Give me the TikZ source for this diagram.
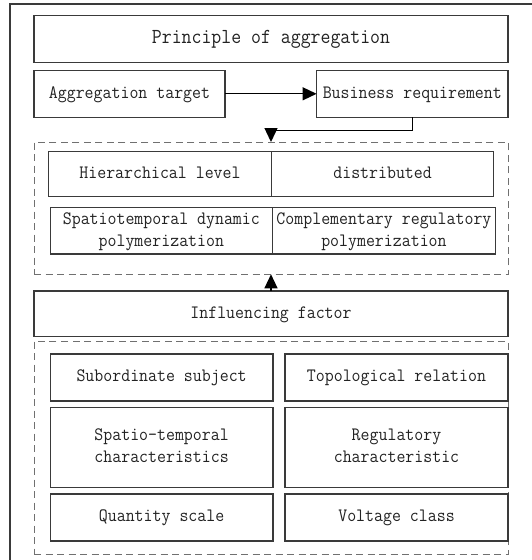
\documentclass[tikz,border=0pt]{standalone}
\usepackage{fontspec}
\usepackage{graphicx}
\usetikzlibrary{arrows.meta}
\newcommand\reftext{\ttfamily\fontsize{18.9}{22}\selectfont}
\newcommand\reftitle{\ttfamily\fontsize{21.4}{25}\selectfont}
\newcommand\sq[1]{\scalebox{0.92}[1]{\begin{tabular}{@{}c@{}}#1\end{tabular}}}
\newcommand\sqt[1]{\scalebox{0.9}[1]{#1}}
\definecolor{lineC}{HTML}{3A3A3A}
\definecolor{dashC}{HTML}{707070}
\definecolor{txtC}{HTML}{222222}
\tikzset{
  cell/.style={draw=lineC, line width=1.1pt, inner sep=0pt, outer sep=0pt,
    anchor=north west, align=center, text=txtC, font=\reftext},
  dbox/.style={draw=dashC, line width=0.9pt, dash pattern=on 7pt off 4.5pt,
    inner sep=0pt, outer sep=0pt, anchor=north west},
  conn/.style={draw=black, line width=1.3pt},
  tip/.style={-{Triangle[length=14pt,width=13pt]}}
}
\begin{document}
\begin{tikzpicture}[x=1pt,y=-1pt]
\useasboundingbox (0,0) rectangle (532,560);
% outer frame (cropped at right and bottom)
\draw[lineC, line width=1.1pt] (532,4) -- (10,4) -- (10,560);
% top part
\node[cell, font=\reftitle, minimum width=474pt, minimum height=46.6pt] (principle) at (34,15.7) {\sqt{Principle of aggregation}};
\node[cell, minimum width=191pt, minimum height=47pt] (agg) at (34,70.3) {\sq{Aggregation target}};
\node[cell, minimum width=191.4pt, minimum height=47pt] (bus) at (316.6,70.3) {\sq{Business requirement}};
% dashed box 1
\node[dbox, minimum width=474pt, minimum height=132.3pt] (d1) at (34,142) {};
\node[cell, minimum width=223pt, minimum height=45pt] (hier) at (48.5,151.7) {\sq{Hierarchical level}};
\node[cell, minimum width=222.2pt, minimum height=45pt] (dist) at (271.5,151.7) {\sq{distributed}};
\node[cell, minimum width=222.3pt, minimum height=46.3pt] (spat) at (50.2,207.7) {\sq{Spatiotemporal dynamic\\polymerization}};
\node[cell, minimum width=222.9pt, minimum height=46.3pt] (comp) at (272.5,207.7) {\sq{Complementary regulatory\\polymerization}};
% influencing factor
\node[cell, minimum width=474pt, minimum height=45.7pt] (infl) at (34,291) {\sq{Influencing factor}};
% dashed box 2
\node[dbox, minimum width=474pt, minimum height=213pt] (d2) at (34,341) {};
\node[cell, minimum width=222.8pt, minimum height=47pt] (sub) at (50.2,354) {\sq{Subordinate subject}};
\node[cell, minimum width=223pt, minimum height=47pt] (topo) at (285,354) {\sq{Topological relation}};
\node[cell, minimum width=222.8pt, minimum height=80.4pt] (spt) at (50.2,407.3) {\sq{Spatio-temporal\\characteristics}};
\node[cell, minimum width=223pt, minimum height=80.4pt] (reg) at (285,407.3) {\sq{Regulatory\\characteristic}};
\node[cell, minimum width=222.8pt, minimum height=47pt] (qty) at (50.2,494) {\sq{Quantity scale}};
\node[cell, minimum width=223pt, minimum height=47pt] (volt) at (285,494) {\sq{Voltage class}};
% connectors
\draw[conn, tip] (agg.east) -- (bus.west);
\draw[conn, tip] (bus.south) -- ++(0,13) -| (d1.north);
\draw[conn, tip] (infl.north) -- (d1.south);
\end{tikzpicture}
\end{document}
